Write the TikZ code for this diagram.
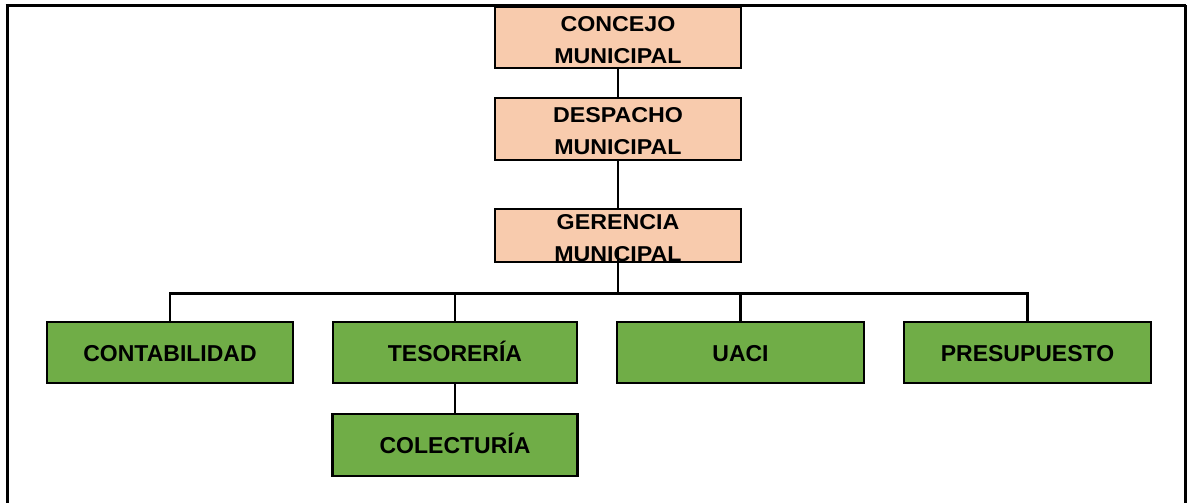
\documentclass[tikz,border=0pt]{standalone}
\usepackage{fontspec}
\setmainfont{Liberation Sans}
\newfontfamily\peachfont[FakeStretch=1.08]{Liberation Sans}
\definecolor{peachc}{HTML}{F8CBAD}
\definecolor{greenc}{HTML}{70AD47}
\newcommand{\twolines}[2]{\raisebox{-8.7pt}[0pt][0pt]{\begin{tabular}{@{}c@{}}#1\\#2\end{tabular}}}
\begin{document}
\begin{tikzpicture}[x=1pt,y=-1pt,
  peach/.style={draw=black, line width=2.5pt, fill=peachc, minimum width=246pt, minimum height=61pt, inner sep=0pt, text height=0pt, text depth=0pt, font=\peachfont\bfseries\fontsize{21.5}{32}\selectfont},
  greenbox/.style={draw=black, line width=2.5pt, fill=greenc, minimum width=246pt, minimum height=61pt, inner sep=0pt, text height=17pt, text depth=0pt, font=\bfseries\fontsize{23}{27}\selectfont},
  conn/.style={line width=2.9pt},
  frameline/.style={line width=3pt}]
\useasboundingbox (0,0) rectangle (1187,503);
\fill[white] (0,0) rectangle (1187,503);
% nodes
\node[peach] (concejo) at (618,37.5) {\twolines{CONCEJO}{MUNICIPAL}};
\node[peach, minimum height=62pt] (despacho) at (618,129) {\twolines{DESPACHO}{MUNICIPAL}};
\node[peach, minimum height=53pt] (gerencia) at (618,235.5) {\twolines{GERENCIA}{MUNICIPAL}};
\node[greenbox] (conta) at (170,352.5) {CONTABILIDAD};
\node[greenbox, minimum width=244pt] (teso) at (455,352.5) {TESORERÍA};
\node[greenbox, minimum width=247pt] (uaci) at (740.5,352.5) {UACI};
\node[greenbox, minimum width=247pt] (presu) at (1027.5,352.5) {PRESUPUESTO};
\node[greenbox, minimum width=245pt, minimum height=62pt] (cole) at (455,445) {COLECTURÍA};
% connectors
\draw[conn] (concejo.south) -- (despacho.north);
\draw[conn] (despacho.south) -- (gerencia.north);
\draw[conn] ([yshift=15pt]gerencia.south) -- ([yshift=-30pt]gerencia.south) coordinate (bus);
\draw[conn] (conta.north) |- (bus) -| (presu.north);
\draw[conn] (teso.north) -- (teso.north |- bus);
\draw[conn] (uaci.north) -- (uaci.north |- bus);
\draw[conn] (teso.south) -- (cole.north);
% frame
\draw[frameline] (7,503) -- (7,5.5);
\draw[frameline] (5.5,5.5) -- (1186,5.5);
\draw[line width=2.2pt] (1185.5,5.5) -- (1185.5,503);
\end{tikzpicture}
\end{document}
